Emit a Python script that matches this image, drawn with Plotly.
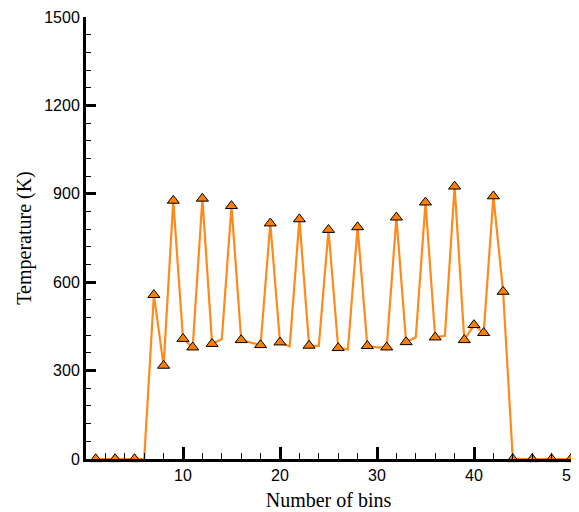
import plotly.graph_objects as go

bins = list(range(1, 51))
temperature = [0, 0, 0, 0, 0, 0, 557, 317, 877, 408,
               379, 884, 391, 406, 859, 404, 395, 387, 800, 396,
               382, 814, 385, 384, 778, 377, 372, 787, 384, 379,
               379, 820, 397, 413, 871, 413, 418, 925, 404, 455,
               428, 892, 568, 0, 0, 0, 0, 0, 0, 0]
marker_bins = [1, 3, 5, 7, 8, 9, 10, 11, 12, 13, 15, 16, 18, 19, 20, 22, 23,
               25, 26, 28, 29, 31, 32, 33, 35, 36, 38, 39, 40, 41, 42, 43,
               44, 46, 48, 50]
marker_temps = [temperature[b - 1] for b in marker_bins]

x_ticks = [10, 20, 30, 40, 50]
y_ticks = [0, 300, 600, 900, 1200, 1500]

fig = go.Figure()
fig.add_trace(go.Scatter(x=bins, y=temperature, mode="lines",
                         line=dict(color="#FF8A1C", width=2.2),
                         cliponaxis=False, showlegend=False, hoverinfo="skip"))
fig.add_trace(go.Scatter(x=marker_bins, y=marker_temps, mode="markers",
                         marker=dict(symbol="triangle-up", size=10.5, color="#FF7F00",
                                     line=dict(color="black", width=1)),
                         cliponaxis=False, showlegend=False))

axis_font = dict(family="Liberation Sans, Arial, sans-serif", size=16, color="black")
title_font = dict(family="Liberation Serif, Times New Roman, serif", size=20, color="black")

# page body adds an 8px offset; the figure is sized to fit the window exactly
fig.update_layout(
    width=571, height=504,
    margin=dict(l=78, r=8, t=9, b=53),
    paper_bgcolor="white", plot_bgcolor="white",
    xaxis=dict(range=[0, 50], tickvals=x_ticks, ticks="inside", ticklen=12, tickwidth=3,
               tickcolor="black", showline=True, linewidth=3, linecolor="black",
               showgrid=False, zeroline=False, tickfont=axis_font, automargin=False,
               ticklabeloverflow="allow",
               minor=dict(dtick=2, tick0=0, ticks="inside", ticklen=6, tickwidth=1,
                          tickcolor="black", showgrid=False),
               title=dict(text="Number of bins", font=title_font, standoff=10)),
    yaxis=dict(range=[0, 1500], tickvals=y_ticks, ticks="inside", ticklen=10, tickwidth=3,
               tickcolor="black", showline=True, linewidth=3, linecolor="black",
               showgrid=False, zeroline=False, tickfont=axis_font, automargin=False,
               ticklabeloverflow="allow",
               minor=dict(dtick=60, tick0=0, ticks="inside", ticklen=5, tickwidth=1,
                          tickcolor="black", showgrid=False),
               title=dict(text="Temperature (K)", font=title_font, standoff=8)),
)

fig.write_html("out.html")
